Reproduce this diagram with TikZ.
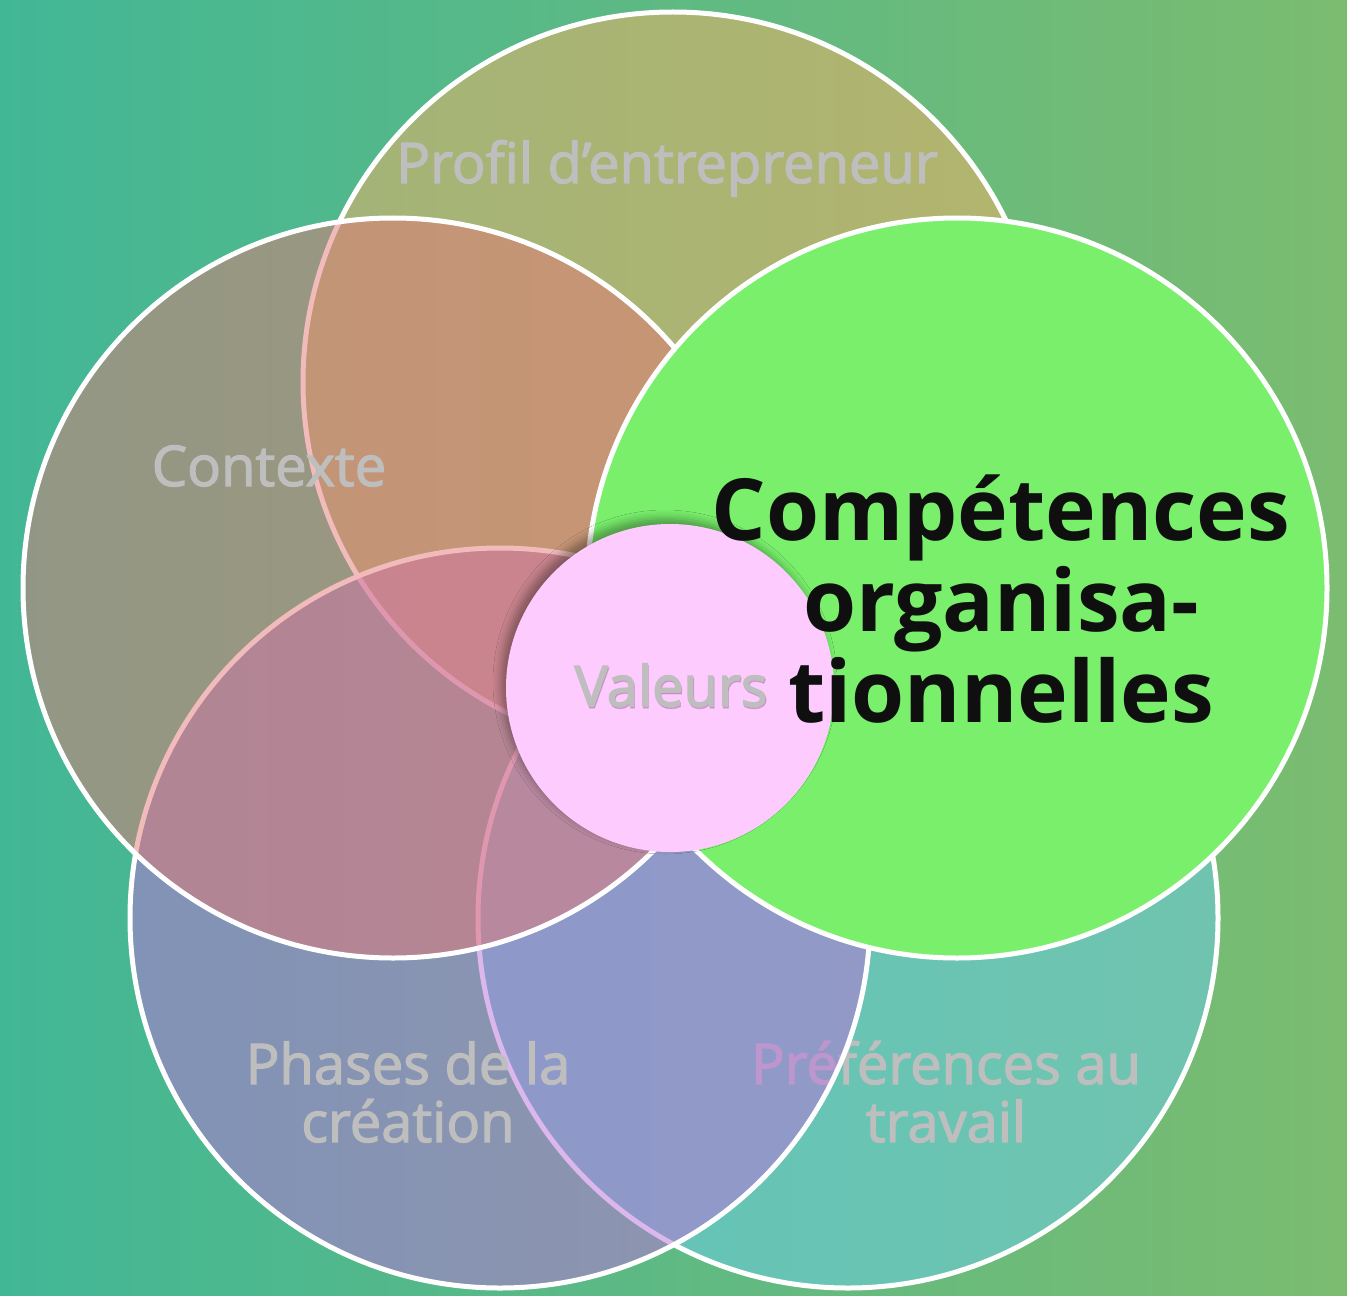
\documentclass[tikz,border=0pt]{standalone}
\usepackage{fontspec}
\usetikzlibrary{shadows.blur}
\newfontfamily\labelfont{Open Sans}[FakeBold=2.2]
\newfontfamily\bigfont{Open Sans Bold}
\definecolor{bgL}{HTML}{42B796}
\definecolor{bgR}{HTML}{7BBC70}
\definecolor{cTop}{HTML}{F7B064}
\definecolor{cLeft}{HTML}{E27876}
\definecolor{cBL}{HTML}{BB70DB}
\definecolor{cBR}{HTML}{6CCEEA}
\definecolor{cGreen}{HTML}{79EF6C}
\definecolor{cPink}{HTML}{FDCBFD}
\definecolor{lblgray}{HTML}{BEBEBE}
\definecolor{textblack}{HTML}{0F0F0F}
\begin{document}
\begin{tikzpicture}[x=0.1mm,y=-0.1mm,
  ring/.style={draw=white,line width=0.5mm},
  lbl/.style={font=\labelfont\fontsize{15.95}{18}\selectfont, text=lblgray, anchor=base, inner sep=0pt},
  big/.style={font=\bigfont\fontsize{24.4}{26}\selectfont, text=textblack, anchor=base, inner sep=0pt}]
\useasboundingbox (0,0) rectangle (1347,1295);
\shade[left color=bgL, right color=bgR] (0,0) rectangle (1347,1295);
% top circle
\filldraw[ring, fill=cTop, fill opacity=0.5] (673,382) circle[radius=370];
\node[lbl] (profil) at (667,183) {Profil d’entrepreneur};
% bottom-right circle
\filldraw[ring, fill=cBR, fill opacity=0.5] (848,918) circle[radius=370];
\node[lbl] (pref1) at (946,1084) {Préférences au};
\node[lbl] (pref2) at (946,1142) {travail};
% bottom-left circle
\filldraw[ring, fill=cBL, fill opacity=0.5] (500,918) circle[radius=370];
\node[lbl] (phases1) at (408,1084) {Phases de la};
\node[lbl] (phases2) at (408,1142) {création};
% left circle
\filldraw[ring, fill=cLeft, fill opacity=0.5] (393,588) circle[radius=370];
\node[lbl] (contexte) at (269,486) {Contexte};
% right (highlighted) circle
\filldraw[ring, fill=cGreen] (957,588) circle[radius=370];
% centre circle
\fill[cPink, blur shadow={shadow xshift=-0.5mm, shadow yshift=0.6mm, shadow blur radius=0.8mm, shadow opacity=35}] (670,688) circle[radius=164];
\node[lbl, text=black, text opacity=0.15] (valeursshadow) at (672,708) {Valeurs};
\node[lbl] (valeurs) at (671,706) {Valeurs};
% highlighted text
\node[big] (comp1) at (1001,540) {Compétences};
\node[big] (comp2) at (1001,631) {organisa-};
\node[big] (comp3) at (1001,722) {tionnelles};
\end{tikzpicture}
\end{document}
